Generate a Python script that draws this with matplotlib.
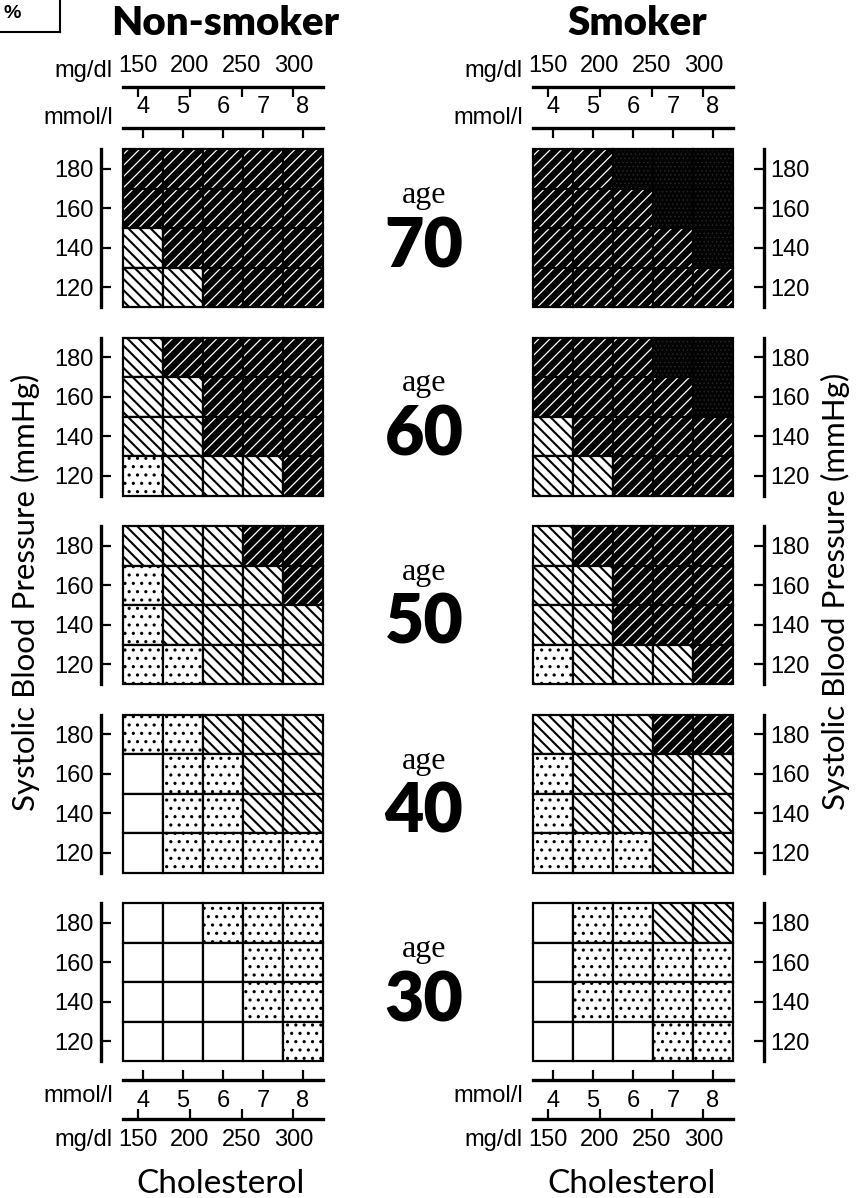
import matplotlib.pyplot as plt
from matplotlib.patches import Rectangle
from matplotlib.lines import Line2D

plt.rcParams['font.family'] = ['Liberation Sans', 'DejaVu Sans']
plt.rcParams['hatch.linewidth'] = 1.5

# Risk level of every cell: 0 blank, 1 dotted, 2 light hatch, 3 dark hatch, 4 black
# rows are SBP 180, 160, 140, 120 (top to bottom), columns cholesterol 4..8 mmol/l
ages = [70, 60, 50, 40, 30]
sbp_levels = [180, 160, 140, 120]
chol_mmol = [4, 5, 6, 7, 8]
chol_mgdl = [150, 200, 250, 300]

nonsmoker_risk = [
    [[3, 3, 3, 3, 3], [3, 3, 3, 3, 3], [2, 3, 3, 3, 3], [2, 2, 3, 3, 3]],  # age 70
    [[2, 3, 3, 3, 3], [2, 2, 3, 3, 3], [2, 2, 3, 3, 3], [1, 2, 2, 2, 3]],  # age 60
    [[2, 2, 2, 3, 3], [1, 2, 2, 2, 3], [1, 2, 2, 2, 2], [1, 1, 2, 2, 2]],  # age 50
    [[1, 1, 2, 2, 2], [0, 1, 1, 2, 2], [0, 1, 1, 2, 2], [0, 1, 1, 1, 1]],  # age 40
    [[0, 0, 1, 1, 1], [0, 0, 0, 1, 1], [0, 0, 0, 1, 1], [0, 0, 0, 0, 1]],  # age 30
]
smoker_risk = [
    [[3, 3, 4, 4, 4], [3, 3, 3, 4, 4], [3, 3, 3, 3, 4], [3, 3, 3, 3, 3]],
    [[3, 3, 3, 4, 4], [3, 3, 3, 3, 4], [2, 3, 3, 3, 3], [2, 2, 3, 3, 3]],
    [[2, 3, 3, 3, 3], [2, 2, 3, 3, 3], [2, 2, 3, 3, 3], [1, 2, 2, 2, 3]],
    [[2, 2, 2, 3, 3], [1, 2, 2, 2, 2], [1, 2, 2, 2, 2], [1, 1, 1, 2, 2]],
    [[0, 1, 1, 2, 2], [0, 1, 1, 1, 1], [0, 1, 1, 1, 1], [0, 0, 0, 1, 1]],
]

MG_PER_MMOL = 38.67

# fill style for each risk level (hatch linewidth only if this matplotlib supports it per patch)
per_patch_lw = hasattr(Rectangle, 'set_hatch_linewidth')
level_style = {
    0: dict(facecolor='white', hatch=None, edgecolor='black'),
    1: dict(facecolor='white', hatch='..', edgecolor='black'),
    2: dict(facecolor='white', hatch='\\\\\\', edgecolor='black'),
    3: dict(facecolor='black', hatch='///', edgecolor='white'),
    4: dict(facecolor='#030303', hatch='....', edgecolor='#252525'),
}
level_hatch_lw = {0: 1.0, 1: 1.1, 2: 1.5, 3: 0.9, 4: 0.6}
if not per_patch_lw:
    # global width: draw the dark hatch as black lines on white instead
    level_style[3] = dict(facecolor='white', hatch='////', edgecolor='black')

W, H = 861, 1198
fig = plt.figure(figsize=(W / 100, H / 100), dpi=100)

grid_left = [123, 533]
grid_w, grid_h = 200, 158
grid_top = [149 + i * 188.5 for i in range(len(ages))]
TICK = dict(direction='in', length=7, width=1.6, labelsize=17)

for side, risk in enumerate([nonsmoker_risk, smoker_risk]):
    for i, age in enumerate(ages):
        left, top = grid_left[side], grid_top[i]
        ax = fig.add_axes([left / W, 1 - (top + grid_h) / H, grid_w / W, grid_h / H])
        ax.set_xlim(chol_mmol[0] - 0.5, chol_mmol[-1] + 0.5)
        ax.set_ylim(sbp_levels[-1] - 10, sbp_levels[0] + 10)

        for r, s in enumerate(sbp_levels):
            for c, ch in enumerate(chol_mmol):
                lvl = risk[i][r][c]
                extra = {'hatch_linewidth': level_hatch_lw[lvl]} if per_patch_lw else {}
                ax.add_patch(Rectangle((ch - 0.5, s - 10), 1, 20, linewidth=0,
                                       **level_style[lvl], **extra))
                ax.add_patch(Rectangle((ch - 0.5, s - 10), 1, 20, facecolor='none',
                                       edgecolor='black', linewidth=1.6, clip_on=False))

        for sp in ax.spines.values():
            sp.set_visible(False)

        # blood pressure axis
        yside = 'left' if side == 0 else 'right'
        ax.spines[yside].set_visible(True)
        ax.spines[yside].set_position(('outward', 16 if side == 0 else 22))
        ax.spines[yside].set_linewidth(2.4)
        ax.yaxis.set_ticks_position(yside)
        ax.set_yticks(sbp_levels)
        ax.tick_params(axis='y', pad=5, **TICK)

        # cholesterol axes only on the first and last row
        if i == 0 or i == len(ages) - 1:
            xside = 'top' if i == 0 else 'bottom'
            ax.spines[xside].set_visible(True)
            ax.spines[xside].set_position(('outward', 15 if i == 0 else 14))
            ax.spines[xside].set_linewidth(2.4)
            ax.xaxis.set_ticks_position(xside)
            ax.set_xticks(chol_mmol)
            ax.tick_params(axis='x', pad=7, **TICK)
            loc = 1 + 62 / grid_h if i == 0 else -58 / grid_h
            sec = ax.secondary_xaxis(loc, functions=(lambda x: x * MG_PER_MMOL,
                                                     lambda x: x / MG_PER_MMOL))
            sec.set_xticks(chol_mgdl)
            sec.tick_params(axis='x', pad=7, **TICK)
            for sp in sec.spines.values():
                sp.set_linewidth(2.4)
            if i == 0:
                ax.annotate('mg/dl', xy=(0, 1), xycoords='axes fraction', xytext=(-10, 72),
                            textcoords='offset pixels', ha='right', va='baseline', fontsize=17)
                ax.annotate('mmol/l', xy=(0, 1), xycoords='axes fraction', xytext=(-10, 25),
                            textcoords='offset pixels', ha='right', va='baseline', fontsize=17)
            else:
                ax.annotate('mmol/l', xy=(0, 0), xycoords='axes fraction', xytext=(-10, -24),
                            textcoords='offset pixels', ha='right', va='top', fontsize=17)
                ax.annotate('mg/dl', xy=(0, 0), xycoords='axes fraction', xytext=(-10, -68),
                            textcoords='offset pixels', ha='right', va='top', fontsize=17)
        else:
            ax.set_xticks([])

# age labels in the middle column
for i, age in enumerate(ages):
    fig.text(424 / W, 1 - (grid_top[i] + 54) / H, 'age', family='Liberation Serif',
             fontsize=23, ha='center', va='baseline')
    fig.text(424 / W, 1 - (grid_top[i] + 118) / H, str(age), family='Lato', weight='heavy',
             fontsize=49, ha='center', va='baseline')

# titles and axis names
fig.text(225 / W, 1 - 35 / H, 'Non-smoker', family='Lato', weight='heavy', fontsize=29,
         ha='center', va='baseline')
fig.text(637 / W, 1 - 35 / H, 'Smoker', family='Lato', weight='heavy', fontsize=29,
         ha='center', va='baseline')
for x in [221, 632]:
    fig.text(x / W, 1 - 1193 / H, 'Cholesterol', family='Lato', fontsize=24,
             ha='center', va='baseline')
fig.text(25 / W, 1 - 592 / H, 'Systolic Blood Pressure (mmHg)', family='Lato', fontsize=22.5,
         rotation=90, ha='center', va='center')
fig.text(835 / W, 1 - 591 / H, 'Systolic Blood Pressure (mmHg)', family='Lato', fontsize=22.5,
         rotation=90, ha='center', va='center')

# corner of the legend box that is cut off in the original
fig.add_artist(Line2D([60 / W, 60 / W], [1, 1 - 32 / H], color='black', lw=1.5))
fig.add_artist(Line2D([0, 60 / W], [1 - 32 / H, 1 - 32 / H], color='black', lw=1.5))
fig.text(4 / W, 1 - 13 / H, '%', fontsize=14, fontweight='bold', va='center')

fig.savefig('out.png', dpi=100)
